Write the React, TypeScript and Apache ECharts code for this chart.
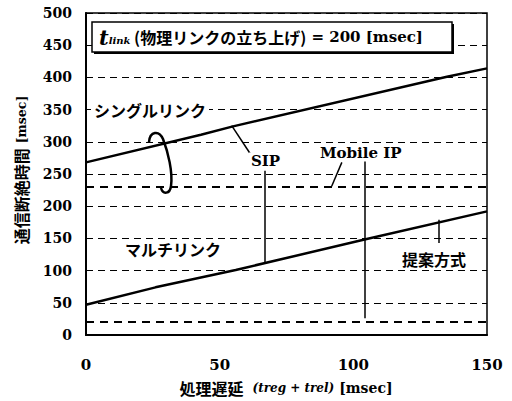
import React, { useEffect, useRef } from "react";
import * as echarts from "echarts";

const xTicks = [0, 50, 100, 150];
const yTicks = [0, 50, 100, 150, 200, 250, 300, 350, 400, 450, 500];
const singleLink = [[0, 268], [43, 311], [55, 324], [135, 401], [150, 414]];
const multiLink = [[0, 47], [26, 74], [56, 101], [105, 149], [150, 192]];
const refLines = [20, 230];
const sipX = 67;
const mobileIpX = 104.4;
const proposedX = 132;

const SERIF = "'DejaVu Serif', 'Liberation Serif', serif";
const CJK = "'Noto Sans CJK JP', sans-serif";

echarts.graphic.registerShape(
  "loop",
  echarts.graphic.extendPath(
    "M149,142 C150,131 159,130 163,139 C168,152 173,172 171,186 C170,194 163,195 161,188",
    {}
  )
);

export default function App() {
  const ref = useRef<HTMLDivElement>(null);
  useEffect(() => {
    document.body.style.margin = "0";
    const chart = echarts.init(ref.current!, null, { renderer: "svg" });
    const lineStyle = { color: "#000", width: 1.5, type: "solid" as const };
    chart.setOption({
      animation: false,
      backgroundColor: "#fff",
      grid: {
        left: 86,
        right: 25,
        top: 13,
        bottom: 66,
        show: true,
        borderColor: "#000",
        borderWidth: 1.5,
        backgroundColor: "transparent",
      },
      xAxis: {
        type: "value",
        min: xTicks[0],
        max: xTicks[xTicks.length - 1],
        interval: 50,
        axisLine: { show: true, lineStyle: { color: "#000", width: 2 } },
        axisTick: { show: false },
        splitLine: { show: false },
        axisLabel: {
          color: "#000",
          fontFamily: SERIF,
          fontWeight: "bold",
          fontSize: 15,
          margin: 22,
        },
      },
      yAxis: {
        type: "value",
        min: yTicks[0],
        max: yTicks[yTicks.length - 1],
        interval: 50,
        axisLine: { show: true, lineStyle: { color: "#000", width: 2 } },
        axisTick: { show: false },
        splitLine: {
          show: true,
          lineStyle: { color: "#000", width: 1, type: [7, 5] },
        },
        axisLabel: {
          color: "#000",
          fontFamily: SERIF,
          fontWeight: "bold",
          fontSize: 14,
          margin: 14,
        },
      },
      series: [
        {
          type: "line",
          data: singleLink,
          symbol: "none",
          lineStyle: { color: "#000", width: 2.5 },
          z: 3,
          markLine: {
            silent: true,
            symbol: "none",
            label: { show: false },
            lineStyle: { color: "#000", width: 2, type: [8, 6] },
            data: refLines.map((v) => ({ yAxis: v })),
          },
        },
        {
          type: "line",
          data: multiLink,
          symbol: "none",
          lineStyle: { color: "#000", width: 2.5 },
          z: 3,
          markLine: {
            silent: true,
            symbol: "none",
            label: { show: false },
            lineStyle,
            data: [
              [{ coord: [sipX, 112] }, { coord: [sipX, 255] }],
              [{ coord: [mobileIpX, 26] }, { coord: [mobileIpX, 270] }],
              [{ coord: [proposedX, 179] }, { coord: [proposedX, 143] }],
              [{ coord: [54.5, 325] }, { coord: [62, 278] }],
              [{ coord: [95.7, 268] }, { coord: [91.9, 231] }],
            ],
          },
        },
      ],
      graphic: [
        { type: "rect", shape: { x: 94, y: 24, width: 360, height: 30 }, style: { fill: "#000" }, z: 10 },
        { type: "rect", shape: { x: 92, y: 22, width: 360, height: 30 }, style: { fill: "#fff", stroke: "#000", lineWidth: 1.5 }, z: 11 },
        {
          type: "text",
          x: 99,
          y: 37,
          z: 12,
          style: {
            text: "{t|t}{s|link}{j| (物理リンクの立ち上げ)}{n| = 200 [msec]}",
            verticalAlign: "middle",
            fill: "#000",
            rich: {
              t: { fontFamily: SERIF, fontStyle: "italic", fontWeight: "bold", fontSize: 21, fill: "#000" },
              s: { fontFamily: SERIF, fontStyle: "italic", fontWeight: "bold", fontSize: 10, fill: "#000", padding: [6, 0, 0, 0] },
              j: { fontFamily: CJK, fontWeight: "bold", fontSize: 16, fill: "#000" },
              n: { fontFamily: SERIF, fontWeight: "bold", fontSize: 15, fill: "#000" },
            },
          },
        },
        {
          type: "text", x: 91, y: 110, z: 12,
          style: { text: "シングルリンク", font: `bold 16px ${CJK}`, fill: "#000", verticalAlign: "middle", backgroundColor: "#fff", padding: [2, 3] },
        },
        {
          type: "text", x: 122, y: 249, z: 12,
          style: { text: "マルチリンク", font: `bold 16px ${CJK}`, fill: "#000", verticalAlign: "middle", backgroundColor: "#fff", padding: [2, 3] },
        },
        {
          type: "text", x: 400, y: 259, z: 12,
          style: { text: "提案方式", font: `bold 16px ${CJK}`, fill: "#000", verticalAlign: "middle", backgroundColor: "#fff", padding: [2, 2] },
        },
        {
          type: "text", x: 249, y: 161, z: 12,
          style: { text: "SIP", font: `bold 15px ${SERIF}`, fill: "#000", verticalAlign: "middle", backgroundColor: "#fff", padding: [1, 2] },
        },
        {
          type: "text", x: 318, y: 153, z: 12,
          style: { text: "Mobile IP", font: `bold 15px ${SERIF}`, fill: "#000", verticalAlign: "middle", backgroundColor: "#fff", padding: [1, 2] },
        },
        {
          type: "loop", x: 0, y: 0, z: 12,
          style: { fill: "none", stroke: "#000", lineWidth: 2.5 },
        },
        {
          type: "text", x: 286, y: 388, z: 12,
          style: {
            text: "{j|処理遅延}{i|(treg + trel)}{n|[msec]}",
            align: "center",
            verticalAlign: "middle",
            fill: "#000",
            rich: {
              j: { fontFamily: CJK, fontWeight: "bold", fontSize: 16, fill: "#000", padding: [0, 9, 0, 0], verticalAlign: "middle", lineHeight: 20 },
              i: { fontFamily: SERIF, fontStyle: "italic", fontWeight: "bold", fontSize: 12, fill: "#000", padding: [0, 5, 0, 0], verticalAlign: "middle", lineHeight: 20 },
              n: { fontFamily: SERIF, fontWeight: "bold", fontSize: 14, fill: "#000", verticalAlign: "middle", lineHeight: 20 },
            },
          },
        },
        {
          type: "text", x: 21, y: 170, z: 12, rotation: Math.PI / 2,
          style: {
            text: "{j|通信断絶時間}{n|[msec]}",
            align: "center",
            verticalAlign: "middle",
            fill: "#000",
            rich: {
              j: { fontFamily: CJK, fontWeight: "bold", fontSize: 16, fill: "#000", padding: [0, 5, 0, 0], verticalAlign: "middle", lineHeight: 20 },
              n: { fontFamily: SERIF, fontWeight: "bold", fontSize: 12.5, fill: "#000", verticalAlign: "middle", lineHeight: 20 },
            },
          },
        },
      ],
    });
    return () => chart.dispose();
  }, []);
  return <div ref={ref} style={{ width: 512, height: 401 }} />;
}
